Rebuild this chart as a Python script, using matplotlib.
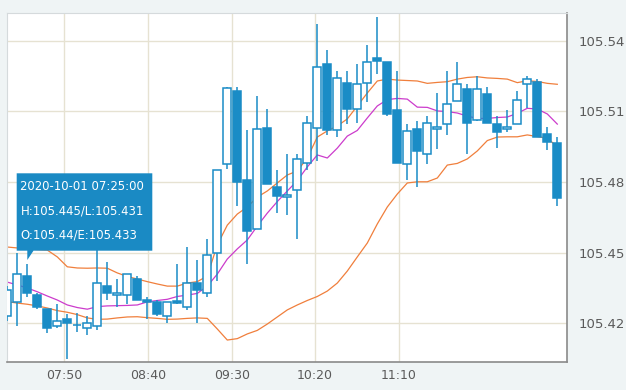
import numpy as np
import matplotlib.pyplot as plt
from matplotlib.patches import Rectangle, Polygon

# candles (one per bar, left to right)
opens = [105.423, 105.429, 105.440, 105.432, 105.426, 105.419, 105.422, 105.4195, 105.418, 105.419,
         105.436, 105.432, 105.432, 105.439, 105.430, 105.429, 105.423, 105.4295, 105.427, 105.437,
         105.433, 105.450, 105.4875, 105.5186, 105.481, 105.460, 105.503, 105.478, 105.4735, 105.4765,
         105.488, 105.503, 105.530, 105.502, 105.522, 105.511, 105.522, 105.5325, 105.531, 105.5106,
         105.4875, 105.5025, 105.492, 105.5024, 105.5045, 105.5144, 105.5195, 105.5063, 105.5174, 105.5045,
         105.5024, 105.5045, 105.5215, 105.5226, 105.5004, 105.4967]
highs = [105.436, 105.450, 105.445, 105.433, 105.426, 105.428, 105.424, 105.4244, 105.423, 105.451,
         105.446, 105.439, 105.441, 105.440, 105.431, 105.430, 105.429, 105.445, 105.4525, 105.447,
         105.456, 105.485, 105.5205, 105.5205, 105.502, 105.5165, 105.511, 105.485, 105.492, 105.492,
         105.508, 105.547, 105.536, 105.527, 105.527, 105.530, 105.538, 105.550, 105.531, 105.527,
         105.5045, 105.506, 105.508, 105.518, 105.527, 105.531, 105.5216, 105.525, 105.5205, 105.508,
         105.5106, 105.5186, 105.525, 105.5236, 105.5035, 105.4992]
lows = [105.421, 105.419, 105.431, 105.426, 105.416, 105.418, 105.405, 105.4164, 105.415, 105.417,
        105.430, 105.427, 105.428, 105.430, 105.422, 105.423, 105.420, 105.428, 105.4256, 105.420,
        105.431, 105.438, 105.4854, 105.470, 105.445, 105.460, 105.479, 105.467, 105.466, 105.456,
        105.485, 105.489, 105.500, 105.499, 105.5045, 105.505, 105.514, 105.526, 105.508, 105.488,
        105.481, 105.478, 105.4875, 105.494, 105.500, 105.5144, 105.492, 105.506, 105.5052, 105.4946,
        105.5014, 105.5045, 105.5116, 105.4992, 105.4936, 105.470]
closes = [105.434, 105.441, 105.433, 105.427, 105.418, 105.421, 105.420, 105.4193, 105.420, 105.437,
          105.433, 105.433, 105.441, 105.430, 105.429, 105.424, 105.429, 105.4285, 105.437, 105.434,
          105.449, 105.485, 105.5198, 105.480, 105.459, 105.5025, 105.479, 105.474, 105.4744, 105.4896,
          105.505, 105.529, 105.502, 105.524, 105.511, 105.5215, 105.531, 105.5315, 105.509, 105.488,
          105.5017, 105.493, 105.505, 105.5032, 105.513, 105.5215, 105.505, 105.5194, 105.5052, 105.5014,
          105.5032, 105.5148, 105.5236, 105.4992, 105.4971, 105.4733]

# bands
upper = [105.4524, 105.4520, 105.4516, 105.4513, 105.4511, 105.4482, 105.4440, 105.4435, 105.4434, 105.4435,
         105.4434, 105.4414, 105.4399, 105.4388, 105.4377, 105.4367, 105.4358, 105.4358, 105.4371, 105.4377,
         105.4401, 105.4533, 105.4617, 105.4664, 105.4694, 105.4736, 105.4762, 105.4796, 105.4830, 105.4847,
         105.4902, 105.4991, 105.5017, 105.5038, 105.5068, 105.5123, 105.5178, 105.5229, 105.5237, 105.5233,
         105.5231, 105.5229, 105.5219, 105.5223, 105.5226, 105.5237, 105.5244, 105.5247, 105.5242, 105.5240,
         105.5237, 105.5222, 105.5230, 105.5227, 105.5219, 105.5215]
middle = [105.4375, 105.4363, 105.4350, 105.4334, 105.4316, 105.4299, 105.4278, 105.4267, 105.4260, 105.4271,
          105.4274, 105.4275, 105.4276, 105.4278, 105.4291, 105.4297, 105.4302, 105.4314, 105.4320, 105.4327,
          105.4358, 105.4409, 105.4473, 105.4516, 105.4554, 105.4613, 105.4668, 105.4717, 105.4762, 105.4806,
          105.4864, 105.4915, 105.4902, 105.4944, 105.4995, 105.5019, 105.5072, 105.5123, 105.5150, 105.5155,
          105.5152, 105.5118, 105.5117, 105.5102, 105.5099, 105.5093, 105.5080, 105.5070, 105.5070, 105.5074,
          105.5076, 105.5092, 105.5113, 105.5110, 105.5089, 105.5046]
lower = [105.4292, 105.4286, 105.4281, 105.4274, 105.4265, 105.4254, 105.4247, 105.4237, 105.4223, 105.4217,
         105.4218, 105.4223, 105.4227, 105.4228, 105.4224, 105.4221, 105.4217, 105.4218, 105.4221, 105.4223,
         105.4221, 105.4176, 105.4129, 105.4135, 105.4155, 105.4170, 105.4197, 105.4227, 105.4257, 105.4278,
         105.4297, 105.4314, 105.4337, 105.4371, 105.4422, 105.4482, 105.4541, 105.4622, 105.4694, 105.4749,
         105.4796, 105.4801, 105.4801, 105.4817, 105.4872, 105.4879, 105.4898, 105.4932, 105.4976, 105.4991,
         105.4992, 105.4992, 105.5000, 105.4993, 105.4986, 105.4950]

time_labels = ["07:50", "08:40", "09:30", "10:20", "11:10"]
price_ticks = [105.42, 105.45, 105.48, 105.51, 105.54]
tooltip = ["2020-10-01 07:25:00", "H:105.445/L:105.431", "O:105.44/E:105.433"]

blue = "#1a8cc6"
orange = "#f07f3c"
magenta = "#cc3ccc"
grid_c = "#e6e2d2"

W, H = 626, 390
fig = plt.figure(figsize=(W / 100, H / 100), dpi=100, facecolor="#eff4f5")
ax = fig.add_axes([6.7 / W, 1 - 362.3 / H, (567.3 - 6.7) / W, (362.3 - 12.7) / H])
ax.set_facecolor("white")

x = np.arange(len(opens))
ax.plot(x, upper, color=orange, lw=0.9, zorder=2)
ax.plot(x, lower, color=orange, lw=0.9, zorder=2)
ax.plot(x, middle, color=magenta, lw=0.9, zorder=2)

for i in x:
    o, h, l, c = opens[i], highs[i], lows[i], closes[i]
    ax.vlines(i, l, h, color=blue, lw=1.1, zorder=3)
    fill = blue if c < o else "white"
    ax.add_patch(Rectangle((i - 0.4, min(o, c)), 0.8, abs(c - o),
                           facecolor=fill, edgecolor=blue, lw=1.1, zorder=4))

ax.set_xlim(-0.06, 56.0)
ax.set_ylim(105.40345, 105.5519)
ax.set_xticks([5.7, 14.07, 22.44, 30.77, 39.14])
ax.set_xticklabels(time_labels)
ax.set_yticks(price_ticks)
ax.set_yticklabels(["%.2f" % p for p in price_ticks])
ax.yaxis.tick_right()
ax.tick_params(length=0, colors="#5a5a5a", labelsize=9)
ax.tick_params(axis="y", pad=8, labelsize=9.5)
ax.tick_params(axis="x", pad=5)
ax.grid(True, color=grid_c, lw=1, zorder=0)
ax.set_axisbelow(True)
for s in ["left", "top"]:
    ax.spines[s].set_color("#d5dadc")
for s in ["bottom", "right"]:
    ax.spines[s].set_color("#8a8a8a")
    ax.spines[s].set_linewidth(1.2)

# tooltip box in pixel coordinates
def fx(px):
    return px / W

def fy(py):
    return 1 - py / H

tip = Polygon([(fx(16.7), fy(173.3)), (fx(152.3), fy(173.3)), (fx(152.3), fy(250.7)),
               (fx(33.5), fy(250.7)), (fx(27.3), fy(260)), (fx(27.3), fy(250.7)),
               (fx(16.7), fy(250.7))],
              closed=True, transform=fig.transFigure, facecolor="#1a8ac4",
              edgecolor="none", zorder=10)
fig.patches.append(tip)
for k, line in enumerate(tooltip):
    fig.text(fx(20.5), fy(186.5 + 24.3 * k), line, color="white", fontsize=8.4,
             va="center", ha="left", zorder=11)

plt.savefig("out.png", dpi=100, facecolor=fig.get_facecolor())
plt.close()
